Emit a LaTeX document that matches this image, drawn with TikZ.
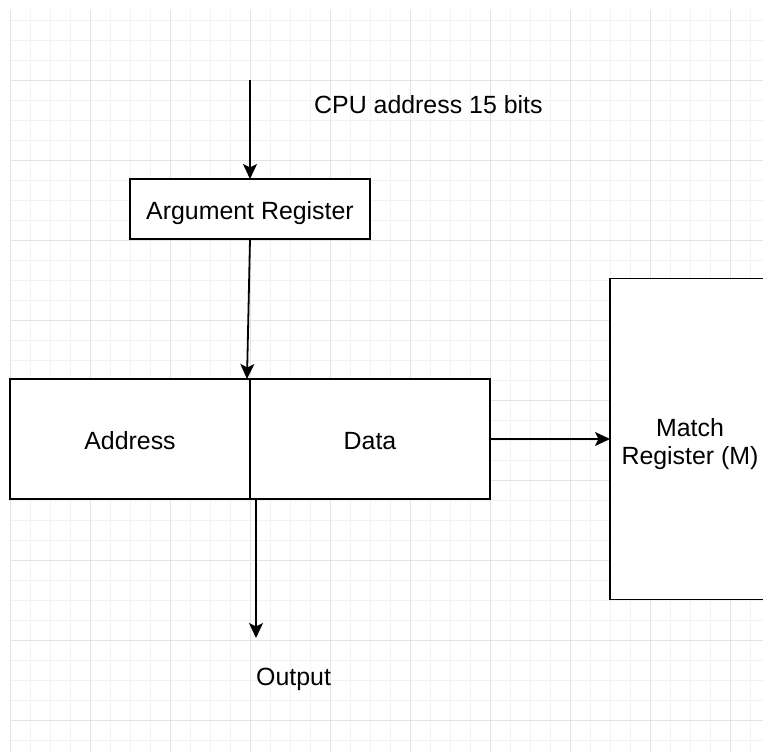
\documentclass[tikz,border=0pt]{standalone}
\usepackage{fontspec}
\setmainfont{Liberation Sans}
\usetikzlibrary{arrows.meta}

\definecolor{gridminor}{HTML}{F2F2F2}
\definecolor{gridmajor}{HTML}{E3E3E3}

\tikzset{
  box/.style={draw=black, line width=1.8pt, fill=white, inner sep=0pt, outer sep=0pt,
              font=\fontsize{24.9}{28}\selectfont, align=center,
              text height=20pt, text depth=0pt},
  label/.style={inner sep=0pt, font=\fontsize{24.9}{28}\selectfont},
  link/.style={line width=1.8pt, -{Stealth[length=15pt, width=14pt, inset=3.5pt]}},
}

\begin{document}
\begin{tikzpicture}[x=1pt, y=-1pt]
  % page frame
  \clip (0,0) rectangle (763,753);
  \fill[white] (0,0) rectangle (763,753);

  % background grid
  \begin{scope}
    \clip (10,10) rectangle (763,753);
    \foreach \x in {10,30,...,770} \draw[gridminor, line width=1pt] (\x,0) -- (\x,753);
    \foreach \y in {0,20,...,760} \draw[gridminor, line width=1pt] (0,\y) -- (763,\y);
    \foreach \x in {10,90,...,770} \draw[gridmajor, line width=1pt] (\x,0) -- (\x,753);
    \foreach \y in {0,80,...,760} \draw[gridmajor, line width=1pt] (0,\y) -- (763,\y);
  \end{scope}

  % blocks
  \node[box, minimum width=240pt, minimum height=60pt] (argreg) at (250,209) {Argument Register};
  \node[box, minimum width=240pt, minimum height=120pt] (addr) at (130,439) {Address};
  \node[box, minimum width=240pt, minimum height=120pt] (data) at (370,439) {Data};
  \node[box, minimum width=160pt, minimum height=321pt, text height=56pt, text depth=6pt] (match) at (690,439) {Match\\Register (M)};

  % labels
  \node[label, anchor=west] (cpulbl) at (314,105) {CPU address 15 bits};
  \coordinate (cpuin) at (250,80);
  \coordinate (outpt) at (256,638);
  \node[label, anchor=west] (outlbl) at (256,679) {Output};

  % connectors
  \draw[link] (cpuin) -- (argreg.north);
  \draw[link] (argreg.south) -- ([xshift=-3pt]addr.north east);
  \draw[link] ([xshift=6pt]addr.south east) -- (outpt);
  \draw[link] (data.east) -- (match.west);
\end{tikzpicture}
\end{document}
